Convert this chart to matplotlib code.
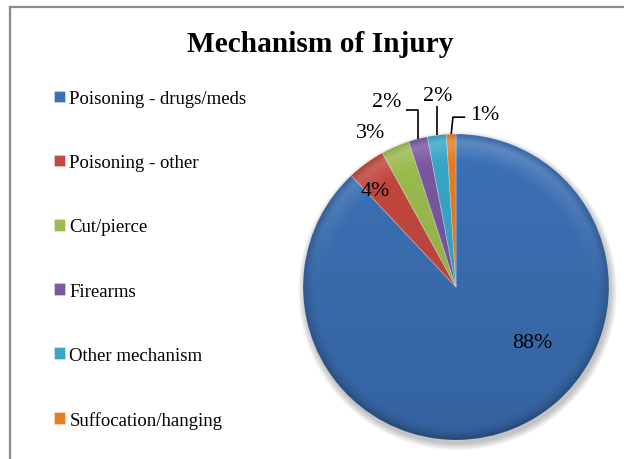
import numpy as np
import matplotlib
matplotlib.use("Agg")
import matplotlib.pyplot as plt
from matplotlib.patches import Circle
from matplotlib.lines import Line2D

# Mechanism of injury shares (percent)
categories = ["Poisoning - drugs/meds", "Poisoning - other", "Cut/pierce",
              "Firearms", "Other mechanism", "Suffocation/hanging"]
shares = [88, 4, 3, 2, 2, 1]
value_labels = ["88%", "4%", "3%", "2%", "2%", "1%"]

colors = ["#3C71B6", "#C4483F", "#9CBC4E", "#7A58A2", "#38A7C8", "#E77D22"]

# label anchor points in pie-radius units
label_pos = [(0.50, -0.36), (-0.53, 0.63), (-0.56, 1.01),
             (-0.45, 1.21), (-0.12, 1.25), (0.19, 1.13)]

plt.rcParams["font.family"] = ["Liberation Serif", "DejaVu Serif"]

W, H = 624, 460
fig = plt.figure(figsize=(W / 100, H / 100), dpi=100)
fig.patch.set_facecolor("white")

# chart frame (top and left edges)
frame_kw = dict(color="#8a8a8a", linewidth=1.6, transform=fig.transFigure)
fig.add_artist(Line2D([10 / W, 10 / W], [0, 1 - 8 / H], **frame_kw))
fig.add_artist(Line2D([10 / W, 1], [1 - 8 / H, 1 - 8 / H], **frame_kw))

fig.text(320 / W, 1 - 45 / H, "Mechanism of Injury", ha="center", va="center",
         fontsize=21.2, fontweight="bold")

# pie axes: centre (456, 288) px, radius 153 px
R = 153
cx, cy = 456, 288
span = 2.2 * R
ax = fig.add_axes([(cx - span / 2) / W, (H - cy - span / 2) / H, span / W, span / H])

# soft drop shadow
for k in range(8):
    ax.add_patch(Circle((0.01, -0.025), 1.0 + 0.006 * k, color="black",
                        alpha=0.03, zorder=0, linewidth=0))

wedges, _ = ax.pie(shares, colors=colors, startangle=90, counterclock=False,
                   radius=1.0, center=(0, 0),
                   wedgeprops=dict(edgecolor=(1, 1, 1, 0.35), linewidth=0.6))
for w in wedges:
    w.set_zorder(2)

# lighting: darker towards the bottom and the rim, highlight near the top rim
n = 500
gx = np.linspace(-1, 1, n)
X, Y = np.meshgrid(gx, gx[::-1])
Rr = np.sqrt(X ** 2 + Y ** 2)
rim = np.clip((Rr - 0.90) / 0.10, 0, 1)
shade = np.zeros((n, n, 4))
shade[..., 3] = 0.13 * (1 - Y) / 2 + 0.25 * rim ** 2 * (0.3 + 0.7 * (1 - Y) / 2)
light = np.ones((n, n, 4))
light[..., 3] = (0.20 * np.clip((Rr - 0.82) / 0.13, 0, 1)
                 * np.clip(1 - (Rr - 0.95) / 0.05, 0, 1) * np.clip(Y, 0, 1))
clip = Circle((0, 0), 1.0, transform=ax.transData)
for img in (shade, light):
    im = ax.imshow(img, extent=(-1, 1, -1, 1), zorder=3, interpolation="bilinear")
    im.set_clip_path(clip)

# value labels
label_fs = 15.8
for txt, (lx, ly) in zip(value_labels, label_pos):
    ax.text(lx, ly, txt, ha="center", va="center", fontsize=label_fs, zorder=5)

# leader lines from the small slices' labels to their rim mid-points
cum = np.cumsum([0] + shares)
def rim_point(i):
    mid = (cum[i] + cum[i + 1]) / 2 / sum(shares) * 2 * np.pi
    return np.sin(mid), np.cos(mid)

lk = dict(color="black", linewidth=1.2, zorder=5, solid_capstyle="butt",
          clip_on=False)
px, py = rim_point(3)
ax.plot([-0.33, px, px], [1.16, 1.16, py], **lk)
px, py = rim_point(4)
ax.plot([px, px], [1.18, py], **lk)
px, py = rim_point(5)
ax.plot([0.06, -0.02, px], [1.11, 1.11, py], **lk)

ax.set_xlim(-1.1, 1.1)
ax.set_ylim(-1.1, 1.1)
ax.set_aspect("equal")
ax.axis("off")

# legend
fig.legend(wedges, categories, loc="upper left",
           bbox_to_anchor=(45 / W, 1 - 82 / H), frameon=False,
           fontsize=13.5, handlelength=0.55, handleheight=0.55,
           handletextpad=0.25, labelspacing=2.51, borderpad=0)

fig.savefig("out.png", dpi=100)
